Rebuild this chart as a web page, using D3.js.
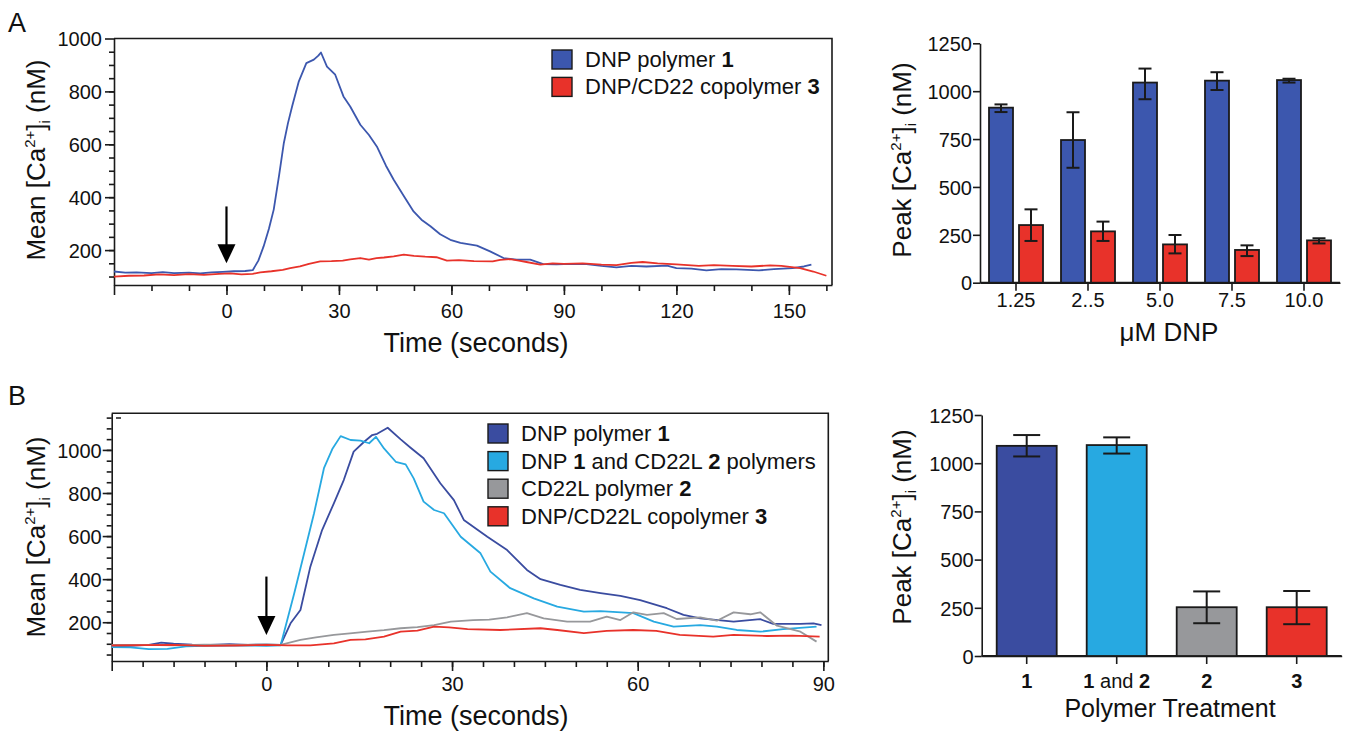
<!DOCTYPE html>
<html>
<head>
<meta charset="utf-8">
<script src="https://cdn.jsdelivr.net/npm/d3@7"></script>
<style>
  body { margin: 0; background: #fff; }
  svg text { font-family: 'Liberation Sans', Arial, Helvetica, sans-serif; fill: #111; }
</style>
</head>
<body>
<div id="plot"></div>
<script>
  // ---------- data, panel A (time course, seconds vs nM) ----------
  var traceA_dnp1 = [[-30,119],[-27,115],[-24,116],[-20,113],[-17,117],[-14,113],[-10,115],[-7,112],[-4,116],[-1,118],[2,120],[5,121],[7,124],[8.5,160],[9.9,214],[11.3,280],[12.6,353],[14,480],[15.3,605],[16.4,680],[17.5,743],[19.3,838],[21.3,907],[23.3,920],[24.5,935],[25.2,947],[26.8,894],[29,863],[31.2,781],[33,743],[35.7,674],[38,635],[40.1,592],[42.5,520],[44.6,466],[47.5,400],[49.9,346],[52,315],[54.4,290],[57,260],[59.7,239],[62.4,227],[66.8,217],[70.3,195],[73.9,170],[77.4,164],[81,164],[84.5,147],[88,146],[92,148],[96,147],[100,140],[104,135],[108,140],[112,138],[117.5,141],[120,132],[124,130],[128,123],[132,128],[136,127],[142,123],[146,128],[151,132],[154,138],[156,145]];
  var traceA_cop3 = [[-30,100],[-26,103],[-22,104],[-18,108],[-14,105],[-10,109],[-6,106],[-2,110],[1,112],[4,108],[7,110],[9,116],[12,120],[15,125],[17,132],[19.6,138],[22,148],[25,157],[28,158],[31,160],[33,165],[35.7,170],[38,164],[40,170],[42,172],[44.6,176],[47.3,183],[50,178],[53,175],[56,173],[58.8,160],[62,162],[66,158],[71,157],[73,163],[75.6,166],[78,160],[80,155],[83.7,145],[87,150],[90,148],[95,150],[100,145],[104,143],[108,152],[111,155],[115,150],[120,146],[126,140],[130,143],[135,140],[140,138],[145,142],[148,140],[153,132],[156.5,119],[160,103]];
  var legendA = ["DNP polymer |1", "DNP/CD22 copolymer |3"];
  var arrowA = [0, 365, 150];   // time, top value, tip value

  // ---------- data, panel A bars ----------
  var dosesA = ["1.25", "2..5", "5.0", "7.5", "10.0"];
  var peakA_dnp1 = [914, 745, 1045, 1055, 1058];
  var peakA_dnp1_lo = [891, 600, 958, 1006, 1045];
  var peakA_dnp1_hi = [931, 890, 1118, 1099, 1065];
  var peakA_cop3 = [301, 268, 200, 171, 221];
  var peakA_cop3_lo = [218, 218, 153, 139, 205];
  var peakA_cop3_hi = [383, 319, 249, 195, 232];

  // ---------- data, panel B (time course) ----------
  var traceB_dnp1 = [[-25,88],[-22,90],[-19,95],[-17,105],[-15,100],[-12,96],[-9,95],[-6,98],[-3,95],[0,96],[2.3,95],[3.9,195],[5.5,257],[7.1,458],[9,628],[10.9,752],[12.5,860],[14.1,992],[15.8,1038],[17.1,1069],[17.9,1075],[19.6,1103],[21.7,1049],[23.3,1010],[25.4,961],[28.1,845],[30.3,767],[31.9,675],[35.7,597],[38.9,535],[42.1,443],[44.3,400],[47.5,373],[50.7,350],[54,335],[57.2,322],[60.4,303],[64.7,265],[67.4,234],[70.1,218],[75.5,203],[79.8,214],[81.9,192],[86.3,192],[88.4,195],[89.7,187]];
  var traceB_both = [[-25,85],[-22,83],[-19,75],[-16,76],[-13,88],[-10,90],[-6,92],[-3,93],[0,90],[2.3,93],[4.5,335],[6.1,520],[7.7,706],[9.3,915],[10.7,1007],[12,1064],[13.6,1046],[15.2,1043],[16.6,1031],[17.7,1061],[19,1007],[20.9,945],[22.5,933],[23.8,868],[25.4,760],[27.1,721],[28.7,706],[31.4,597],[34.6,520],[36.2,435],[39.4,358],[43.2,311],[47,272],[51.3,249],[54,252],[59.3,242],[62.6,203],[65.8,180],[70.1,187],[72.8,180],[76,164],[79.8,156],[83.5,168],[88.9,180]];
  var traceB_cd22 = [[-25,95],[-20,95],[-15,93],[-10,96],[-5,95],[0,97],[2.3,95],[5.5,118],[8,130],[10.9,141],[13.5,148],[16.3,156],[19,163],[21.7,172],[24.4,177],[27.1,187],[29.8,203],[33.4,210],[36,212],[38.9,223],[42.1,242],[44.8,218],[48.6,203],[52.3,203],[55,226],[57.2,210],[59.3,246],[61.5,234],[64.2,242],[66.3,215],[70.1,223],[72.8,207],[75.5,246],[78.2,237],[79.8,246],[82.5,184],[86.3,156],[88.9,110]];
  var traceB_cop3 = [[-25,92],[-20,94],[-15,95],[-10,90],[-5,92],[0,95],[3.4,93],[7.1,93],[10.9,102],[13.6,118],[16,120],[19,133],[21.7,156],[24.4,161],[27.1,180],[29.5,176],[32.5,168],[37.8,164],[44.3,172],[47,164],[51.3,149],[55,160],[59.3,164],[63,160],[66.8,141],[72.2,133],[75.5,141],[80.9,136],[85,138],[89.4,133]];
  var legendB = ["DNP polymer |1", "DNP |1| and CD22L |2| polymers", "CD22L polymer |2", "DNP/CD22L copolymer |3"];
  var arrowB = [0, 412, 141];

  // ---------- data, panel B bars ----------
  var treatB = ["1", "1 and 2", "2", "3"];
  var peakB = [1090, 1094, 253, 253];
  var peakB_lo = [1035, 1050, 170, 165];
  var peakB_hi = [1146, 1134, 335, 337];

  var cBlue = "#3c57ae", cRed = "#e8322a", cNavy = "#3a4ca0", cCyan = "#27a9e1", cGray = "#97989b";
  var ink = "#1a1a1a";
  var fmt = d3.format("d");

  var svg = d3.select("#plot").append("svg")
      .attr("width", 1348)
      .attr("height", 732);

  // splits "text |bold|" style strings into tspans (odd pieces bold)
  function richText(sel, str) {
    str.split("|").forEach(function(p, i) {
      if (p === "") return;
      sel.append("tspan").text(p).style("font-weight", i % 2 ? "bold" : "normal");
    });
  }

  function caTitle(x, y, word) {
    var t = svg.append("text")
      .attr("transform", "translate(" + x + "," + y + ") rotate(-90)")
      .attr("text-anchor", "middle")
      .style("font-size", "26px");
    t.append("tspan").text(word + " [Ca");
    t.append("tspan").text("2+").style("font-size", "15px").attr("dy", -10);
    t.append("tspan").text("]").attr("dy", 10);
    t.append("tspan").text("i").style("font-size", "15px").attr("dy", 5);
    t.append("tspan").text(" (nM)").attr("dy", -5);
  }

  function styleAxis(g) {
    g.selectAll("path,line").attr("stroke", ink).attr("stroke-width", 1.6);
    g.selectAll("text").style("font-size", "20px").attr("fill", ink);
  }

  // ---------- time-course panel ----------
  function tracePanel(x, y, o) {
    var left = x.range()[0], right = x.range()[1], bottom = y.range()[0], top = y.range()[1];
    var g = svg.append("g");

    g.append("g").attr("transform", "translate(" + left + ",0)")
      .call(d3.axisLeft(y).tickValues(o.yMinor).tickSize(5).tickSizeOuter(0).tickFormat(""))
      .call(function(s) { s.select(".domain").remove(); })
      .call(styleAxis);
    g.append("g").attr("transform", "translate(" + left + ",0)")
      .call(d3.axisLeft(y).tickValues(o.yMajor).tickSize(9).tickSizeOuter(0).tickFormat(fmt))
      .call(styleAxis)
      .call(function(s) { s.selectAll("text").attr("x", o.yLabelX).attr("dy", "0.36em"); });

    g.append("g").attr("transform", "translate(0," + bottom + ")")
      .call(d3.axisBottom(x).tickValues(o.xMinor).tickSize(6).tickSizeOuter(0).tickFormat(""))
      .call(function(s) { s.select(".domain").remove(); })
      .call(styleAxis);
    g.append("g").attr("transform", "translate(0," + bottom + ")")
      .call(d3.axisBottom(x).tickValues(o.xMajor).tickSize(10).tickSizeOuter(0)
        .tickFormat(function(d) { return d < 0 ? "" : d; }))
      .call(styleAxis)
      .call(function(s) { s.selectAll("text").attr("y", o.xLabelY).attr("dy", 0); });

    // frame top + right
    g.append("path")
      .attr("d", "M" + left + "," + top + "H" + right + "V" + bottom)
      .attr("fill", "none").attr("stroke", ink).attr("stroke-width", 1.6);

    var line = d3.line()
      .x(function(d) { return x(d[0]); })
      .y(function(d) { return y(d[1]); });

    o.series.forEach(function(s) {
      g.append("path").datum(s.data)
        .attr("d", line)
        .attr("fill", "none")
        .attr("stroke", s.color)
        .attr("stroke-width", 1.8)
        .attr("stroke-linejoin", "round");
    });

    // stimulus arrow
    var ax = x(o.arrow[0]), ay0 = y(o.arrow[1]), ay1 = y(o.arrow[2]);
    g.append("line").attr("x1", ax).attr("x2", ax).attr("y1", ay0).attr("y2", ay1 - 12)
      .attr("stroke", "#000").attr("stroke-width", 2.2);
    g.append("path")
      .attr("d", "M" + (ax - 9) + "," + (ay1 - 19) + "L" + (ax + 9) + "," + (ay1 - 19) + "L" + ax + "," + ay1 + "Z")
      .attr("fill", "#000");

    // legend
    o.series.forEach(function(s, i) {
      var ly = o.legendY + i * o.legendStep;
      g.append("rect")
        .attr("x", o.legendX).attr("y", ly - 17)
        .attr("width", 20).attr("height", 19)
        .attr("fill", s.color).attr("stroke", ink).attr("stroke-width", 1.4);
      var t = g.append("text")
        .attr("x", o.legendX + 33).attr("y", ly)
        .style("font-size", "22px");
      richText(t, s.label);
    });

    svg.append("text")
      .attr("x", 476).attr("y", o.titleY)
      .attr("text-anchor", "middle")
      .style("font-size", "27px")
      .text("Time (seconds)");
  }

  // ---------- panel A, left ----------
  var xA = d3.scaleLinear().domain([-30, 161.5]).range([114, 832]);
  var yA = d3.scaleLinear().domain([68, 1000]).range([285, 38.5]);
  tracePanel(xA, yA, {
    yMajor: [200, 400, 600, 800, 1000],
    yMinor: d3.range(100, 1000, 50),
    xMajor: [-30, 0, 30, 60, 90, 120, 150],
    xMinor: d3.range(-20, 161, 10),
    yLabelX: -12, xLabelY: 33,
    series: [
      { data: traceA_dnp1, color: cBlue, label: legendA[0] },
      { data: traceA_cop3, color: cRed, label: legendA[1] }
    ],
    arrow: arrowA,
    legendX: 552, legendY: 67, legendStep: 27.4,
    titleY: 352
  });

  // ---------- panel B, left ----------
  var xB = d3.scaleLinear().domain([-25, 90.8]).range([111.7, 828.3]);
  var yB = d3.scaleLinear().domain([20, 1170]).range([661, 413.3]);
  tracePanel(xB, yB, {
    yMajor: [200, 400, 600, 800, 1000],
    yMinor: d3.range(50, 1170, 50),
    xMajor: [-25, 0, 30, 60, 90],
    xMinor: d3.range(-20, 91, 5),
    yLabelX: -10, xLabelY: 30,
    series: [
      { data: traceB_dnp1, color: cNavy, label: legendB[0] },
      { data: traceB_both, color: cCyan, label: legendB[1] },
      { data: traceB_cd22, color: cGray, label: legendB[2] },
      { data: traceB_cop3, color: cRed, label: legendB[3] }
    ],
    arrow: arrowB,
    legendX: 488, legendY: 441, legendStep: 27.6,
    titleY: 725
  });
  // stray tick mark in the corner of panel B
  svg.append("line").attr("x1", 116).attr("x2", 121).attr("y1", 418).attr("y2", 418)
    .attr("stroke", ink).attr("stroke-width", 1.5);

  // ---------- bar panels ----------
  function barAxes(x, y) {
    var left = x.range()[0], right = x.range()[1], bottom = y.range()[0];
    svg.append("g").attr("transform", "translate(" + left + ",0)")
      .call(d3.axisLeft(y).tickValues([0, 250, 500, 750, 1000, 1250]).tickSize(7).tickSizeOuter(0).tickFormat(fmt))
      .call(styleAxis)
      .call(function(s) { s.selectAll("text").attr("x", -8).attr("dy", "0.36em"); });
    svg.append("g").attr("transform", "translate(0," + bottom + ")")
      .call(d3.axisBottom(x).tickSize(8).tickSizeOuter(0).tickFormat(""))
      .call(styleAxis);
    svg.append("line").attr("x1", left).attr("x2", right).attr("y1", bottom).attr("y2", bottom)
      .attr("stroke", ink).attr("stroke-width", 1.8);
  }

  function errBar(g, cx, lo, hi, y, cap) {
    g.append("line").attr("x1", cx).attr("x2", cx).attr("y1", y(lo)).attr("y2", y(hi));
    g.append("line").attr("x1", cx - cap / 2).attr("x2", cx + cap / 2).attr("y1", y(lo)).attr("y2", y(lo));
    g.append("line").attr("x1", cx - cap / 2).attr("x2", cx + cap / 2).attr("y1", y(hi)).attr("y2", y(hi));
  }

  // panel A, right: grouped bars
  var xR = d3.scaleBand().domain(dosesA).range([980, 1340]);
  var xRsub = d3.scaleBand().domain(["dnp1", "cop3"]).range([0, xR.bandwidth()]).paddingInner(0.2).paddingOuter(0.3);
  var yR = d3.scaleLinear().domain([0, 1250]).range([282.7, 43.3]);
  barAxes(xR, yR);

  var groupsA = [
    { key: "dnp1", vals: peakA_dnp1, lo: peakA_dnp1_lo, hi: peakA_dnp1_hi, color: cBlue },
    { key: "cop3", vals: peakA_cop3, lo: peakA_cop3_lo, hi: peakA_cop3_hi, color: cRed }
  ];
  var barsA = svg.append("g");
  groupsA.forEach(function(s) {
    barsA.selectAll(".b-" + s.key)
      .data(dosesA)
      .enter().append("rect")
        .attr("x", function(d) { return xR(d) + xRsub(s.key); })
        .attr("y", function(d, i) { return yR(s.vals[i]); })
        .attr("width", xRsub.bandwidth())
        .attr("height", function(d, i) { return yR(0) - yR(s.vals[i]); })
        .attr("fill", s.color)
        .attr("stroke", ink)
        .attr("stroke-width", 1.8);
  });
  var errA = svg.append("g").attr("stroke", ink).attr("stroke-width", 2);
  groupsA.forEach(function(s) {
    dosesA.forEach(function(d, i) {
      errBar(errA, xR(d) + xRsub(s.key) + xRsub.bandwidth() / 2, s.lo[i], s.hi[i], yR, 13);
    });
  });
  svg.append("g").selectAll("text")
    .data(dosesA)
    .enter().append("text")
      .attr("x", function(d) { return xR(d) + xR.bandwidth() / 2; })
      .attr("y", 307)
      .attr("text-anchor", "middle")
      .style("font-size", "20px")
      .text(function(d) { return d; });
  svg.append("text")
    .attr("x", 1169).attr("y", 341)
    .attr("text-anchor", "middle")
    .style("font-size", "26px")
    .text("\u03bcM DNP");
  caTitle(911, 160, "Peak");

  // panel B, right: single bars
  var xS = d3.scaleBand().domain(treatB).range([981.7, 1341.7]).paddingInner(1 / 3).paddingOuter(1 / 6);
  var yS = d3.scaleLinear().domain([0, 1250]).range([656, 415]);
  var xStick = d3.scaleBand().domain(treatB).range([981.7, 1341.7]);
  barAxes(xStick, yS);
  var colorsB = [cNavy, cCyan, cGray, cRed];
  svg.append("g").selectAll("rect")
    .data(treatB)
    .enter().append("rect")
      .attr("x", function(d) { return xS(d); })
      .attr("y", function(d, i) { return yS(peakB[i]); })
      .attr("width", xS.bandwidth())
      .attr("height", function(d, i) { return yS(0) - yS(peakB[i]); })
      .attr("fill", function(d, i) { return colorsB[i]; })
      .attr("stroke", ink)
      .attr("stroke-width", 1.8);
  var errB = svg.append("g").attr("stroke", ink).attr("stroke-width", 2);
  treatB.forEach(function(d, i) {
    errBar(errB, xS(d) + xS.bandwidth() / 2, peakB_lo[i], peakB_hi[i], yS, 27);
  });
  treatB.forEach(function(d) {
    var t = svg.append("text")
      .attr("x", xS(d) + xS.bandwidth() / 2)
      .attr("y", 688)
      .attr("text-anchor", "middle")
      .style("font-size", "20px");
    richText(t, d === "1 and 2" ? "|1| and |2" : "|" + d);
  });
  svg.append("text")
    .attr("x", 1170).attr("y", 717)
    .attr("text-anchor", "middle")
    .style("font-size", "25px")
    .text("Polymer Treatment");
  caTitle(911, 527, "Peak");

  // left y titles and panel letters
  caTitle(45, 160, "Mean");
  caTitle(45, 537, "Mean");
  svg.append("text").attr("x", 8).attr("y", 32).style("font-size", "27px").text("A");
  svg.append("text").attr("x", 8).attr("y", 405).style("font-size", "27px").text("B");
</script>
</body>
</html>
